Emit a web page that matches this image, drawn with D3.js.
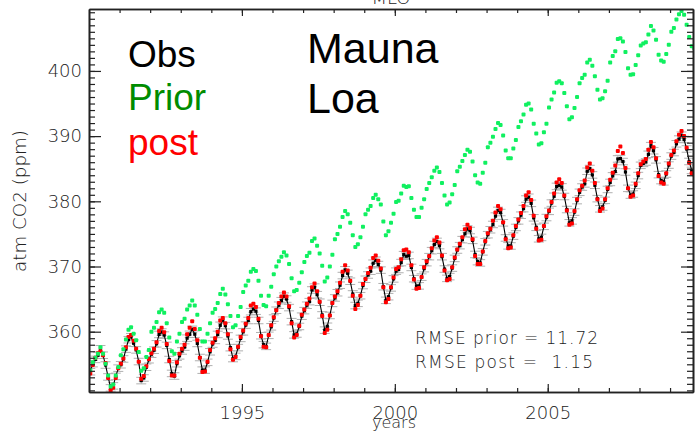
<!DOCTYPE html>
<html><head><meta charset="utf-8">
<script src="https://cdn.jsdelivr.net/npm/d3@7"></script>
<style>
body{margin:0;background:#fff}
svg{display:block}
text{font-family:"Liberation Sans",Arial,sans-serif}
</style>
</head><body>
<svg id="c" width="698" height="433"></svg>
<script>
// ---- data (monthly, starting Jan 1990) ----
const startYear = 1990;
const obs = [
353.86,355.10,355.75,356.38,357.38,356.39,354.89,353.06,351.38,351.69,353.14,354.41,
354.93,355.82,357.33,358.77,359.23,358.23,357.21,355.42,352.50,352.90,354.55,355.70,
356.55,357.16,358.14,359.58,359.95,359.48,357.90,355.73,353.60,353.20,355.09,356.30,
357.05,357.64,359.01,359.60,360.36,359.62,358.20,356.04,354.10,354.11,355.30,356.92,
358.11,358.66,359.58,360.98,361.77,360.93,359.35,357.55,355.88,356.21,357.56,358.97,
359.98,361.01,361.72,363.07,363.48,363.15,361.72,359.38,358.01,357.75,359.44,360.75,
362.09,363.29,364.06,364.76,365.45,365.01,363.70,361.54,359.51,359.65,360.80,362.38,
363.23,364.06,364.61,366.40,366.84,365.68,364.52,362.57,360.24,360.83,362.49,364.34,
365.18,365.98,367.13,368.61,369.49,368.95,367.74,365.79,364.01,364.35,365.52,367.08,
368.04,368.70,369.28,370.50,370.96,370.30,369.45,366.90,364.81,365.37,366.72,368.10,
369.29,369.54,370.60,371.82,371.58,371.70,369.86,368.13,367.00,367.03,368.37,369.67,
370.59,371.51,372.43,373.37,373.85,373.21,371.51,369.61,368.18,368.45,369.76,371.24,
372.53,373.20,374.12,375.02,375.76,375.52,374.01,371.85,370.75,370.55,372.25,373.79,
374.88,375.64,376.45,377.73,378.60,378.28,376.70,374.38,373.17,373.15,374.66,375.99,
377.00,377.87,378.88,380.35,380.62,379.69,377.47,376.01,374.25,374.46,376.16,377.51,
378.46,379.73,380.77,382.29,382.45,382.21,380.74,378.74,376.70,377.00,378.35,380.11,
381.38,382.19,382.67,384.61,385.03,384.05,382.46,380.41,378.85,379.13,380.15,381.82,
382.89,383.90,384.58,386.50,386.56,386.10,384.50,381.99,380.96,381.12,382.45,383.95,
385.52,385.82,386.03,387.21,388.54,387.76,386.36,384.09,383.18,382.99,384.19,385.56,
386.94,387.48,388.82,389.55,390.14,389.48,388.03,386.11,384.74,384.43,386.02,387.42
];
const prior = [
354.1,355.3,356.0,356.6,357.6,356.6,355.1,353.3,351.6,351.9,353.3,354.6,
356.4,357.3,358.8,360.3,360.7,359.7,358.7,356.9,354.0,354.4,356.1,357.2,
360.0,360.6,361.5,363.0,363.4,362.9,361.3,359.1,357.0,356.6,358.5,359.7,
361.5,362.0,363.4,364.0,364.8,364.0,362.6,360.4,358.5,358.5,359.7,361.3,
362.9,363.5,364.4,365.8,366.6,365.7,364.2,362.4,360.7,361.0,362.4,363.8,
366.1,367.1,367.8,369.2,369.6,369.3,367.8,365.5,364.1,363.9,365.5,366.9,
368.8,370.0,370.8,371.5,372.2,371.7,370.4,368.2,366.2,366.4,367.5,369.1,
370.7,371.6,372.1,373.9,374.3,373.2,372.0,370.1,367.7,368.3,370.0,371.8,
374.2,375.0,376.1,377.6,378.5,378.0,376.7,374.8,373.0,373.4,374.5,376.1,
378.0,378.7,379.3,380.5,381.0,380.3,379.5,376.9,374.8,375.4,376.7,378.1,
379.9,380.1,381.2,382.4,382.2,382.3,380.5,378.7,377.6,377.6,379.0,380.3,
381.9,382.8,383.7,384.7,385.2,384.5,382.8,380.9,379.5,379.8,381.1,382.5,
384.6,385.3,386.2,387.1,387.9,387.6,386.1,384.0,382.9,382.7,384.4,385.9,
388.3,389.0,389.9,391.1,392.0,391.7,390.1,387.8,386.6,386.6,388.1,389.4,
391.4,392.3,393.3,394.8,395.0,394.1,391.9,390.4,388.7,388.9,390.6,391.9,
394.4,395.6,396.7,398.2,398.4,398.1,396.6,394.6,392.6,392.9,394.3,396.0,
398.1,398.9,399.4,401.3,401.7,400.8,399.2,397.1,395.6,395.8,396.9,398.5,
401.3,402.3,403.0,404.9,405.0,404.5,402.9,400.4,399.4,399.5,400.9,402.4,
403.9,404.2,404.4,405.6,406.9,406.2,404.8,402.5,401.6,401.4,402.6,404.0,
406.0,406.6,407.9,408.7,409.2,408.6,407.1,405.2,403.8,403.5,405.1,406.5
];
const post = [
353.6,354.9,356.0,356.7,357.0,356.4,355.2,352.9,351.0,351.4,352.9,354.4,
355.1,355.9,357.6,359.2,359.5,358.6,357.4,355.4,352.8,353.2,354.7,355.8,
356.7,357.4,358.4,360.1,360.6,359.9,358.1,355.5,353.3,353.3,355.3,356.6,
357.4,358.0,359.6,360.6,361.6,360.4,358.7,356.0,353.8,353.9,355.4,357.2,
358.3,359.0,360.0,361.7,362.1,361.3,359.6,357.3,355.7,356.1,357.7,359.2,
360.2,361.2,362.1,364.0,364.3,363.8,362.0,359.3,357.7,357.6,359.5,361.0,
362.2,363.3,364.4,365.4,366.0,365.4,363.9,361.3,359.1,359.5,360.9,362.6,
363.4,364.3,365.1,366.8,367.4,366.2,364.6,362.4,359.8,360.3,362.5,364.4,
365.4,366.2,367.5,369.2,370.2,369.4,367.8,365.5,363.5,364.1,365.5,367.3,
368.1,369.0,369.8,371.3,371.7,370.9,369.7,366.8,364.5,365.0,366.8,368.3,
369.6,369.9,371.1,372.5,372.6,372.2,370.2,368.0,366.6,366.7,368.4,369.9,
370.8,371.6,372.8,374.0,374.5,373.7,371.7,369.4,367.9,368.1,369.9,371.4,
372.6,373.5,374.5,375.7,376.4,375.9,374.2,371.6,370.4,370.4,372.3,373.9,
375.1,375.8,377.0,378.3,379.3,378.8,376.8,374.2,372.8,372.9,374.8,376.2,
377.2,378.2,379.3,380.9,381.4,380.2,377.8,375.8,374.0,374.1,376.2,377.7,
378.6,379.9,381.2,382.9,383.4,382.8,380.9,378.6,376.4,376.6,378.5,380.3,
381.7,382.4,383.2,385.2,385.8,384.7,382.8,380.3,378.5,378.9,380.3,382.0,
383.3,384.4,385.5,387.7,388.4,387.4,385.1,382.0,380.7,380.9,382.7,384.3,
385.7,386.1,386.5,387.9,389.1,388.3,386.6,383.9,382.9,382.7,384.3,385.8,
387.1,387.8,389.2,390.2,390.8,390.0,388.2,385.9,384.3,384.1,386.1,387.6
];
const obsErr = 0.5;
const yTicks = [360, 370, 380, 390, 400];
const xTicks = [1995, 2000, 2005];
const legendItems = ["Obs", "Prior", "post"];
const legendColors = ["#000000", "#008c00", "#ff0000"];
const siteLines = ["Mauna", "Loa"];
const statLines = ["RMSE prior = 11.72", "RMSE post =  1.15"];
const plotTitle = "MLO";
const xLabel = "years";
const yLabel = "atm CO2 (ppm)";

// ---- layout ----
const L = 89, R = 693, T = 9, B = 392;
const svg = d3.select("#c");
const x = d3.scaleLinear().domain([1990, 2009.75]).range([L, R]);
const y = d3.scaleLinear().domain([350.75, 409.5]).range([B, T]);
const t = i => startYear + (i + 0.5) / 12;

svg.append("defs").append("clipPath").attr("id", "clip")
  .append("rect").attr("x", L).attr("y", T).attr("width", R - L).attr("height", B - T);
const g = svg.append("g").attr("clip-path", "url(#clip)");

// obs error bars
const eb = g.append("g").attr("stroke", "#b0b0b0").attr("stroke-width", 1);
obs.forEach((v, i) => {
  const cx = x(t(i));
  eb.append("line").attr("x1", cx).attr("x2", cx).attr("y1", y(v - obsErr)).attr("y2", y(v + obsErr));
  eb.append("line").attr("x1", cx - 5).attr("x2", cx + 5).attr("y1", y(v - obsErr)).attr("y2", y(v - obsErr));
  eb.append("line").attr("x1", cx - 5).attr("x2", cx + 5).attr("y1", y(v + obsErr)).attr("y2", y(v + obsErr));
});
// obs line
g.append("path").datum(obs)
  .attr("fill", "none").attr("stroke", "#000").attr("stroke-width", 1.1)
  .attr("d", d3.line().x((d, i) => x(t(i))).y(d => y(d)));
g.append("g").selectAll("rect").data(obs).join("rect")
  .attr("x", (d, i) => x(t(i)) - 1.6).attr("y", d => y(d) - 1.6)
  .attr("width", 3.2).attr("height", 3.2).attr("fill", "#000");
// post
g.append("g").selectAll("rect").data(post).join("rect")
  .attr("x", (d, i) => x(t(i)) - 2).attr("y", d => y(d) - 2)
  .attr("width", 4).attr("height", 4).attr("rx", 1).attr("fill", "#ff0000");
// prior
g.append("g").selectAll("rect").data(prior).join("rect")
  .attr("x", (d, i) => x(t(i)) - 2).attr("y", d => y(d) - 2)
  .attr("width", 4).attr("height", 4).attr("rx", 1).attr("fill", "#10f060");

// ---- axes ----
const minorY = d3.range(351, 410, 1);
const minorX = d3.range(1991, 2010, 1);
function styleAxis(sel) {
  sel.selectAll("path.domain").attr("stroke", "#222").attr("stroke-width", 1.6);
  sel.selectAll(".tick line").attr("stroke", "#222").attr("stroke-width", 1.2);
  sel.selectAll("text").attr("fill", "#222").style("font-size", "18px")
     .style("font-family", "'DejaVu Sans', sans-serif").style("font-weight", "200");
}
// left
svg.append("g").attr("transform", `translate(${L},0)`)
  .call(d3.axisLeft(y).tickValues(minorY).tickSize(-6).tickSizeOuter(0).tickFormat(""))
  .call(styleAxis);
svg.append("g").attr("transform", `translate(${L},0)`)
  .call(d3.axisLeft(y).tickValues(yTicks).tickSize(-12).tickSizeOuter(0).tickPadding(7).tickFormat(d3.format("d")))
  .call(styleAxis);
// right
svg.append("g").attr("transform", `translate(${R},0)`)
  .call(d3.axisRight(y).tickValues(minorY).tickSize(-6).tickSizeOuter(0).tickFormat(""))
  .call(styleAxis);
svg.append("g").attr("transform", `translate(${R},0)`)
  .call(d3.axisRight(y).tickValues(yTicks).tickSize(-12).tickSizeOuter(0).tickFormat(""))
  .call(styleAxis);
// bottom
svg.append("g").attr("transform", `translate(0,${B})`)
  .call(d3.axisBottom(x).tickValues(minorX).tickSize(-4).tickSizeOuter(0).tickFormat(""))
  .call(styleAxis);
svg.append("g").attr("transform", `translate(0,${B})`)
  .call(d3.axisBottom(x).tickValues(xTicks).tickSize(-8).tickSizeOuter(0).tickPadding(14).tickFormat(d3.format("d")))
  .call(styleAxis);
// top
svg.append("g").attr("transform", `translate(0,${T})`)
  .call(d3.axisTop(x).tickValues(minorX).tickSize(-4).tickSizeOuter(0).tickFormat(""))
  .call(styleAxis);
svg.append("g").attr("transform", `translate(0,${T})`)
  .call(d3.axisTop(x).tickValues(xTicks).tickSize(-7).tickSizeOuter(0).tickFormat(""))
  .call(styleAxis);

const thin = s => s.attr("fill", "#222").style("font-family", "'DejaVu Sans', sans-serif").style("font-weight", "200");

// axis titles
svg.append("text").attr("x", 394).attr("y", 428).attr("text-anchor", "middle")
  .style("font-size", "16px").text(xLabel).call(thin);
svg.append("text").attr("transform", "translate(26,201) rotate(-90)").attr("text-anchor", "middle")
  .style("font-size", "17px").attr("textLength", 142).attr("lengthAdjust", "spacingAndGlyphs")
  .text(yLabel).call(thin);
// cut-off title
svg.append("text").attr("x", 391).attr("y", 4).attr("text-anchor", "middle")
  .style("font-size", "18px").text(plotTitle).call(thin);

// legend
const legY = [67, 110, 155];
legendItems.forEach((s, i) => {
  svg.append("text").attr("x", 128).attr("y", legY[i]).attr("fill", legendColors[i])
    .style("font-size", "37px").text(s);
});
// site
[63, 113].forEach((yy, i) => {
  svg.append("text").attr("x", 307).attr("y", yy).attr("fill", "#000")
    .style("font-size", "43px").text(siteLines[i]);
});
// stats
[[344, 183], [368, 178]].forEach(([yy, w], i) => {
  svg.append("text").attr("x", 415).attr("y", yy).attr("xml:space", "preserve")
    .style("white-space", "pre").style("font-size", "17px")
    .attr("textLength", w).attr("lengthAdjust", "spacing")
    .text(statLines[i]).call(thin);
});
</script>
</body></html>
